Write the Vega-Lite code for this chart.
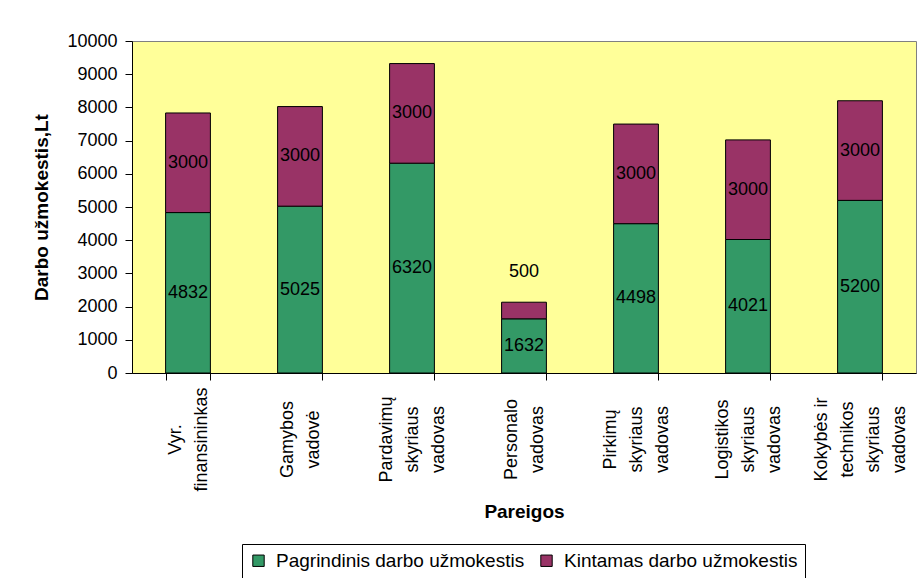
{
  "$schema": "https://vega.github.io/schema/vega-lite/v6.json",
  "width": 784,
  "height": 332,
  "autosize": {"type": "none"},
  "padding": {"left": 132, "top": 41, "right": 2, "bottom": 205},
  "background": "white",
  "config": {
    "font": "Liberation Sans",
    "view": {"fill": "#FFFF99", "stroke": "#808080", "strokeWidth": 1},
    "axis": {
      "domainColor": "black",
      "tickColor": "black",
      "labelColor": "black",
      "titleColor": "black",
      "labelFont": "Liberation Sans",
      "titleFont": "Liberation Sans",
      "grid": false
    },
    "axisY": {
      "labelFontSize": 18,
      "labelPadding": 8,
      "labelOverlap": false,
      "tickSize": 7,
      "titleFontSize": 19,
      "titleFontWeight": "bold",
      "titleX": -91,
      "titleBaseline": "middle"
    }
  },
  "data": {
    "values": [
      {"pareigos": "Vyr.\nfinansininkas", "tipas": "Pagrindinis darbo užmokestis", "eil": 1, "suma": 4832},
      {"pareigos": "Vyr.\nfinansininkas", "tipas": "Kintamas darbo užmokestis", "eil": 2, "suma": 3000},
      {"pareigos": "Gamybos\nvadovė", "tipas": "Pagrindinis darbo užmokestis", "eil": 1, "suma": 5025},
      {"pareigos": "Gamybos\nvadovė", "tipas": "Kintamas darbo užmokestis", "eil": 2, "suma": 3000},
      {"pareigos": "Pardavimų\nskyriaus\nvadovas", "tipas": "Pagrindinis darbo užmokestis", "eil": 1, "suma": 6320},
      {"pareigos": "Pardavimų\nskyriaus\nvadovas", "tipas": "Kintamas darbo užmokestis", "eil": 2, "suma": 3000},
      {"pareigos": "Personalo\nvadovas", "tipas": "Pagrindinis darbo užmokestis", "eil": 1, "suma": 1632},
      {"pareigos": "Personalo\nvadovas", "tipas": "Kintamas darbo užmokestis", "eil": 2, "suma": 500},
      {"pareigos": "Pirkimų\nskyriaus\nvadovas", "tipas": "Pagrindinis darbo užmokestis", "eil": 1, "suma": 4498},
      {"pareigos": "Pirkimų\nskyriaus\nvadovas", "tipas": "Kintamas darbo užmokestis", "eil": 2, "suma": 3000},
      {"pareigos": "Logistikos\nskyriaus\nvadovas", "tipas": "Pagrindinis darbo užmokestis", "eil": 1, "suma": 4021},
      {"pareigos": "Logistikos\nskyriaus\nvadovas", "tipas": "Kintamas darbo užmokestis", "eil": 2, "suma": 3000},
      {"pareigos": "Kokybės ir\ntechnikos\nskyriaus\nvadovas", "tipas": "Pagrindinis darbo užmokestis", "eil": 1, "suma": 5200},
      {"pareigos": "Kokybės ir\ntechnikos\nskyriaus\nvadovas", "tipas": "Kintamas darbo užmokestis", "eil": 2, "suma": 3000}
    ]
  },
  "transform": [
    {"stack": "suma", "groupby": ["pareigos"], "sort": [{"field": "eil"}], "as": ["s0", "s1"]},
    {"calculate": "(datum.s0 + datum.s1) / 2", "as": "vid"}
  ],
  "encoding": {
    "x": {
      "field": "pareigos",
      "type": "nominal",
      "sort": null,
      "scale": {"paddingInner": 0.6, "paddingOuter": 0.3},
      "axis": {
        "title": "Pareigos",
        "titleFontSize": 19,
        "titleFontWeight": "bold",
        "titleY": 138,
        "titleBaseline": "middle",
        "labelExpr": "split(datum.label, '\\n')",
        "labelAngle": 270,
        "labelAlign": "center",
        "labelBaseline": "middle",
        "labelFontSize": 18,
        "labelLineHeight": 26,
        "labelPadding": 59,
        "labelLimit": 0,
        "labelOffset": {
          "condition": [
            {"test": "length(split(datum.value, '\\n')) == 2", "value": -13},
            {"test": "length(split(datum.value, '\\n')) == 3", "value": -26},
            {"test": "length(split(datum.value, '\\n')) == 4", "value": -39}
          ],
          "value": 0
        },
        "tickBand": "extent",
        "tickSize": 7,
        "labelOverlap": false
      }
    }
  },
  "layer": [
    {
      "mark": {"type": "bar", "stroke": "black", "strokeWidth": 1},
      "encoding": {
        "y": {
          "field": "s0",
          "type": "quantitative",
          "scale": {"domain": [0, 10000], "nice": false},
          "axis": {
            "title": "Darbo užmokestis,Lt",
            "values": [0, 1000, 2000, 3000, 4000, 5000, 6000, 7000, 8000, 9000, 10000],
            "format": "d"
          }
        },
        "y2": {"field": "s1"},
        "color": {
          "field": "tipas",
          "type": "nominal",
          "sort": ["Pagrindinis darbo užmokestis", "Kintamas darbo užmokestis"],
          "scale": {
            "domain": ["Pagrindinis darbo užmokestis", "Kintamas darbo užmokestis"],
            "range": ["#339966", "#993366"]
          },
          "legend": {
            "title": null,
            "orient": "none",
            "legendX": 110,
            "legendY": 503,
            "direction": "horizontal",
            "strokeColor": "black",
            "fillColor": "white",
            "padding": 7,
            "symbolType": "square",
            "symbolSize": 130,
            "symbolStrokeColor": "black",
            "symbolStrokeWidth": 1,
            "symbolOpacity": 1,
            "labelFontSize": 19,
            "labelColor": "black",
            "labelFont": "Liberation Sans",
            "labelOffset": 8,
            "columnPadding": 12,
            "labelLimit": 0
          }
        }
      }
    },
    {
      "transform": [{"filter": "datum.suma >= 1000"}],
      "mark": {"type": "text", "fontSize": 18, "color": "black", "baseline": "middle", "align": "center"},
      "encoding": {
        "y": {
          "field": "vid",
          "type": "quantitative",
          "axis": {
            "title": "Darbo užmokestis,Lt",
            "values": [0, 1000, 2000, 3000, 4000, 5000, 6000, 7000, 8000, 9000, 10000],
            "format": "d"
          }
        },
        "text": {"field": "suma", "type": "quantitative", "format": "d"}
      }
    },
    {
      "transform": [{"filter": "datum.suma < 1000"}],
      "mark": {"type": "text", "fontSize": 18, "color": "black", "baseline": "middle", "align": "center", "dy": -30},
      "encoding": {
        "y": {
          "field": "s1",
          "type": "quantitative",
          "axis": {
            "title": "Darbo užmokestis,Lt",
            "values": [0, 1000, 2000, 3000, 4000, 5000, 6000, 7000, 8000, 9000, 10000],
            "format": "d"
          }
        },
        "text": {"field": "suma", "type": "quantitative", "format": "d"}
      }
    }
  ]
}
